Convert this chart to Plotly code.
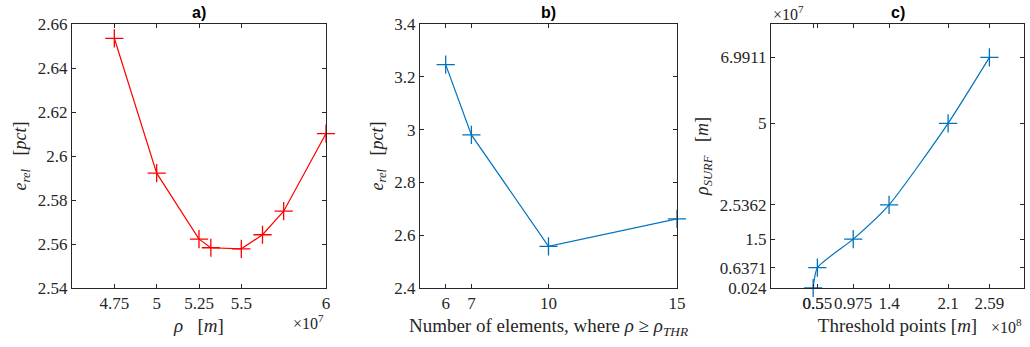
import plotly.graph_objects as go

# ---------------- data ----------------
# panel a)  rho [x1e7 m]  vs  e_rel [pct]
a_rho = [4.75, 5.0, 5.25, 5.32, 5.5, 5.625, 5.75, 6.0]
a_err = [2.6535, 2.5922, 2.5622, 2.5583, 2.5578, 2.5642, 2.5749, 2.6102]
a_xticks = [4.75, 5, 5.25, 5.5, 6]
a_xtext = ["4.75", "5", "5.25", "5.5", "6"]
a_yticks = [2.54, 2.56, 2.58, 2.60, 2.62, 2.64, 2.66]
a_ytext = ["2.54", "2.56", "2.58", "2.6", "2.62", "2.64", "2.66"]

# panel b)  number of elements vs e_rel [pct]
b_n = [6, 7, 10, 15]
b_err = [3.246, 2.980, 2.558, 2.662]
b_xticks = [6, 7, 10, 15]
b_xtext = ["6", "7", "10", "15"]
b_yticks = [2.4, 2.6, 2.8, 3.0, 3.2, 3.4]
b_ytext = ["2.4", "2.6", "2.8", "3", "3.2", "3.4"]

# panel c)  threshold points [x1e8 m] vs rho_SURF [x1e7 m]
c_thr = [0.5, 0.55, 0.975, 1.4, 2.1, 2.59]
c_rho = [0.024, 0.6371, 1.5, 2.5362, 5.0, 6.9911]
c_xticks = [0.5, 0.55, 0.975, 1.4, 2.1, 2.59]
c_xtext = ["0.5", "0.55", "0.975", "1.4", "2.1", "2.59"]
c_yticks = [0.024, 0.6371, 1.5, 2.5362, 5.0, 6.9911]
c_ytext = ["0.024", "0.6371", "1.5", "2.5362", "5", "6.9911"]

RED = "#ff0000"
BLUE = "#0072bd"
AX = "#262626"
SERIF = "Liberation Serif, Times New Roman, DejaVu Serif, serif"
SANS = "Liberation Sans, Arial, sans-serif"
TICKF = dict(family=SERIF, size=17, color=AX)
XTITLEF = dict(family=SERIF, size=19, color=AX)
YTITLEF = dict(family=SERIF, size=18, color=AX)

fig = go.Figure()

def mk(color):
    return dict(symbol="cross-thin", size=13, line=dict(color=color, width=1.3), color=color)

fig.add_trace(go.Scatter(x=a_rho, y=a_err, mode="lines+markers", line=dict(color=RED, width=1.2),
                         marker=mk(RED), xaxis="x", yaxis="y", showlegend=False, cliponaxis=False))
fig.add_trace(go.Scatter(x=b_n, y=b_err, mode="lines+markers", line=dict(color=BLUE, width=1.2),
                         marker=mk(BLUE), xaxis="x2", yaxis="y2", showlegend=False, cliponaxis=False))
fig.add_trace(go.Scatter(x=c_thr, y=c_rho, mode="lines+markers",
                         line=dict(color=BLUE, width=1.2, shape="spline", smoothing=0.6),
                         marker=mk(BLUE), xaxis="x3", yaxis="y3", showlegend=False, cliponaxis=False))

YDOM = [1 - 288 / 347, 1 - 24 / 347]

def axis(domain, rng, tv, tt, title, anchor, standoff, tfont):
    return dict(domain=domain, range=rng, tickmode="array", tickvals=tv, ticktext=tt,
                showline=True, mirror="ticks", linecolor=AX, linewidth=1,
                ticks="inside", ticklen=4, tickcolor=AX, tickwidth=1,
                showgrid=False, zeroline=False, tickfont=TICKF, tickangle=0,
                title=dict(text=title, font=tfont, standoff=standoff), anchor=anchor,
                automargin=False, fixedrange=True)

fig.update_layout(
    width=1030, height=347,
    margin=dict(l=0, r=0, t=0, b=0),
    paper_bgcolor="white", plot_bgcolor="white",
    xaxis=axis([72 / 1030, 326 / 1030], [4.5, 6.0], a_xticks, a_xtext,
               "<i>ρ</i>   [<i>m</i>]", "y", 6, XTITLEF),
    yaxis=axis(YDOM, [2.54, 2.66], a_yticks, a_ytext,
               "<i>e</i><sub><i>rel</i></sub>   [<i>pct</i>]", "x", 6, YTITLEF),
    xaxis2=axis([420 / 1030, 677 / 1030], [5, 15], b_xticks, b_xtext,
                "Number of elements, where <i>ρ</i> ≥ <i>ρ</i><sub><i>THR</i></sub>", "y2", 6, XTITLEF),
    yaxis2=axis(YDOM, [2.4, 3.4], b_yticks, b_ytext,
                "<i>e</i><sub><i>rel</i></sub>   [<i>pct</i>]", "x2", 6, YTITLEF),
    xaxis3=axis([771 / 1030, 1024 / 1030], [0, 3], c_xticks, c_xtext,
                "Threshold points [<i>m</i>]", "y3", 6, XTITLEF),
    yaxis3=axis(YDOM, [0.024, 8.0], c_yticks, c_ytext,
                "<i>ρ</i><sub><i>SURF</i></sub>   [<i>m</i>]", "x3", 6, YTITLEF),
)

annots = [
    dict(text="<b>a)</b>", x=(72 + 326) / 2 / 1030, y=1 - 12 / 347),
    dict(text="<b>b)</b>", x=(420 + 677) / 2 / 1030, y=1 - 12 / 347),
    dict(text="<b>c)</b>", x=(771 + 1024) / 2 / 1030, y=1 - 12 / 347),
]
for a in annots:
    fig.add_annotation(xref="paper", yref="paper", showarrow=False, xanchor="center", yanchor="middle",
                       font=dict(family=SANS, size=16, color="black"), **a)

mult = [
    dict(text="×10<sup>7</sup>", x=326 / 1030, y=1 - 322 / 347, xanchor="right"),
    dict(text="×10<sup>8</sup>", x=1024 / 1030, y=1 - 326 / 347, xanchor="right"),
    dict(text="×10<sup>7</sup>", x=771 / 1030, y=1 - 13 / 347, xanchor="left"),
]
for m in mult:
    fig.add_annotation(xref="paper", yref="paper", showarrow=False, yanchor="middle",
                       font=dict(family=SERIF, size=16, color=AX), **m)

fig.write_html("out.html")
